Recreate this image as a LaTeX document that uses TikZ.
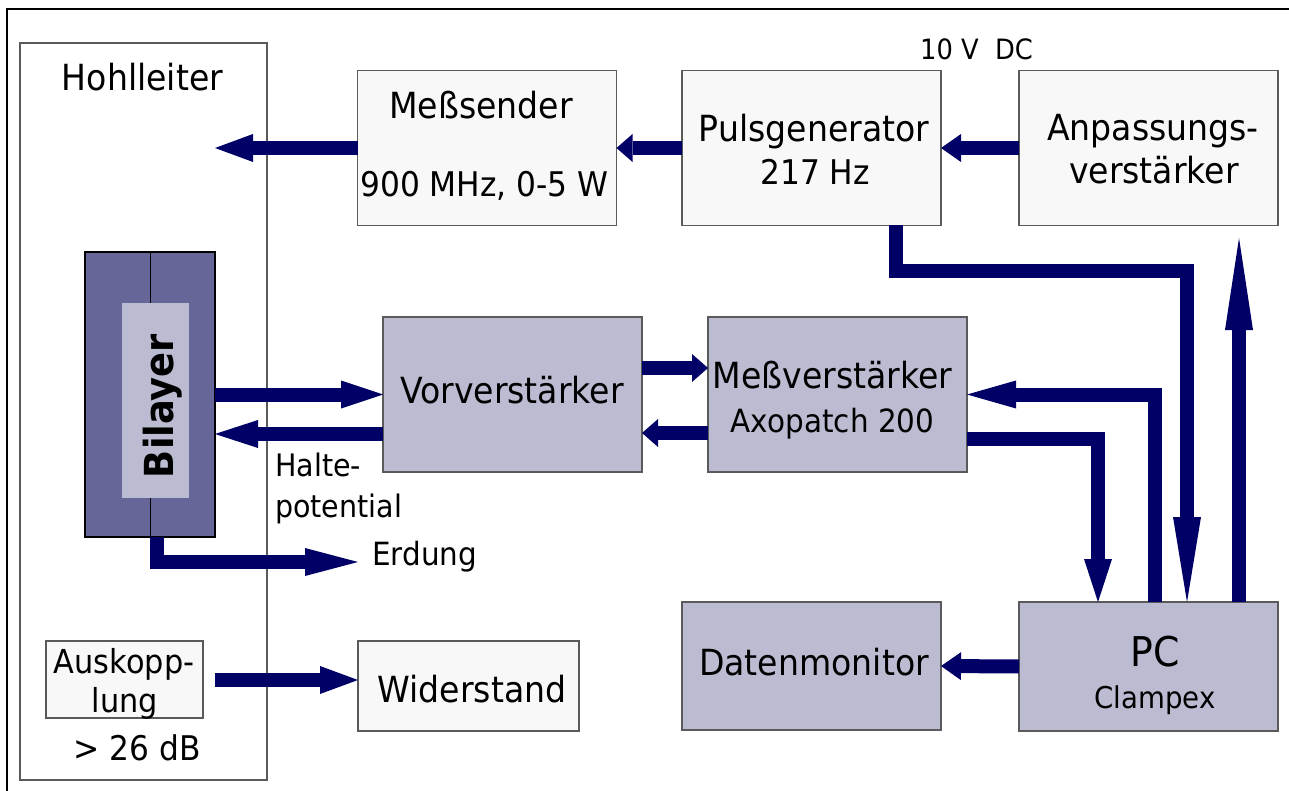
\documentclass[tikz,border=0pt]{standalone}
\usepackage{fontspec}
\setmainfont{DejaVu Sans}[FakeStretch=0.92]
\usetikzlibrary{arrows.meta,calc}
\definecolor{navy}{RGB}{0,0,102}
\definecolor{lightbox}{RGB}{248,248,248}
\definecolor{bluebox}{RGB}{187,187,210}
\definecolor{bilayerdark}{RGB}{102,102,153}
\definecolor{boxline}{RGB}{90,90,90}
\newcommand\fsz[1]{\fontsize{#1}{#1}\selectfont}
\begin{document}
\begin{tikzpicture}[x=1pt,y=-1pt,
  lbox/.style 2 args={draw=boxline,line width=1.2pt,fill=lightbox,minimum width=#1,minimum height=#2,inner sep=0pt,outer sep=0pt},
  bbox/.style 2 args={draw=boxline,line width=1.2pt,fill=bluebox,minimum width=#1,minimum height=#2,inner sep=0pt,outer sep=0pt},
  txt/.style={inner sep=0pt,anchor=base,font=\fsz{36}},
  arr/.style={draw=navy,line width=14pt,-{Triangle[length=#1,width=28pt,line width=0pt]}}
]
\useasboundingbox (0,0) rectangle (1289,791);
\fill[white] (0,0) rectangle (1289,791);
\draw[line width=2pt] (7,791) -- (7,9) -- (1289,9);

% Hohlleiter
\node[lbox={247pt}{737pt},fill=white] (hohl) at (143.5,411.5) {};
\node[txt] (hohltxt) at (142.5,91) {Hohlleiter};

% top row
\node[lbox={259pt}{155pt}] (mess) at (487,148) {};
\node[txt] (messa) at (481,119) {Meßsender};
\node[txt,font=\fsz{34}] (messb) at (484.5,197) {900 MHz, 0-5 W};
\node[lbox={259pt}{155pt}] (puls) at (811.5,148) {};
\node[txt] (pulsa) at (814,142) {Pulsgenerator};
\node[txt,font=\fsz{34}] (pulsb) at (815,185) {217 Hz};
\node[lbox={259pt}{155pt}] (anp) at (1148.5,148) {};
\node[txt] (anpa) at (1153,141) {Anpassungs-};
\node[txt] (anpb) at (1154,184) {verstärker};
\node[inner sep=0pt,anchor=base west,font=\fsz{28}] (dc) at (920,60) {10 V\ \ DC};

% Bilayer
\node[draw=black,line width=1.2pt,fill=bilayerdark,minimum width=130pt,minimum height=285pt,inner sep=0pt,outer sep=0pt] (bil) at (150,394.5) {};
\draw[line width=1pt] (bil.north) -- (bil.south);
\node[fill=bluebox,minimum width=67pt,minimum height=195pt,inner sep=0pt] (bilin) at (155.5,400.5) {};
\node[rotate=90,anchor=base,inner sep=0pt,font=\bfseries\fsz{40}] (biltxt) at (173,406) {Bilayer};

% middle row
\node[bbox={259pt}{155pt}] (vorv) at (512.5,394.5) {};
\node[txt] (vorvtxt) at (512,403) {Vorverstärker};
\node[bbox={259pt}{155pt}] (messv) at (837.5,394.5) {};
\node[txt] (messva) at (832.5,388) {Meßverstärker};
\node[txt,font=\fsz{32}] (messvb) at (832.5,432) {Axopatch 200};

% bottom row
\node[bbox={259pt}{128pt}] (daten) at (811.5,666) {};
\node[txt] (datentxt) at (814,675) {Datenmonitor};
\node[bbox={259pt}{129pt}] (pc) at (1148.5,666.5) {};
\node[txt,font=\fsz{41}] (pca) at (1155,666) {PC};
\node[txt,font=\fsz{30}] (pcb) at (1155,708) {Clampex};
\node[lbox={157pt}{77pt}] (ausk) at (124.5,679.5) {};
\node[txt,font=\fsz{33}] (auska) at (124,673) {Auskopp-};
\node[txt,font=\fsz{33}] (auskb) at (125,712) {lung};
\node[txt,font=\fsz{34}] (db) at (137,760) {> 26 dB};
\node[lbox={221pt}{90pt}] (wid) at (468.5,686) {};
\node[txt] (widtxt) at (472,702) {Widerstand};

% labels
\node[inner sep=0pt,anchor=base west,font=\fsz{31}] (halte) at (275,476) {Halte-};
\node[inner sep=0pt,anchor=base west,font=\fsz{31}] (pot) at (275,517) {potential};
\node[inner sep=0pt,anchor=base west,font=\fsz{32}] (erdtxt) at (372,565) {Erdung};

% connectors
\coordinate (hohlin) at (215,148);
\draw[arr=38pt] (mess.west) -- (hohlin);
\draw[arr=16pt] (puls.west) -- (mess.east);
\draw[arr=20pt] (anp.west) -- (puls.east);
\draw[arr=42pt] (bil.east) -- (vorv.west);
\draw[arr=43pt] ($(vorv.west)+(0,39.5)$) -- ($(bil.east)+(0,39.5)$);
\draw[arr=16pt] ($(vorv.east)+(0,-26.5)$) -- ($(messv.west)+(0,-26.5)$);
\draw[arr=16pt] ($(messv.west)+(0,38.5)$) -- ($(vorv.east)+(0,38.5)$);
\coordinate (erd) at (358,562);
\draw[arr=53pt] ($(bil.south)+(7,0)$) |- (erd);
\coordinate (auskout) at (215,680);
\draw[arr=38pt] (auskout) -- (wid.west |- auskout);
\draw[arr=85pt] ($(puls.south)+(84.5,0)$) -- ++(0,46) -| ($(pc.north)+(38.5,0)$);
\coordinate (anpin) at (1239,238);
\draw[arr=92pt] (pc.north -| anpin) -- (anpin);
\draw[arr=49pt] ($(pc.north)+(6.5,0)$) |- (messv.east);
\draw[arr=43pt] ($(messv.east)+(0,44.5)$) -| ($(pc.north)+(-50.5,0)$);
\draw[arr=20pt] (pc.west) -- (daten.east);
\end{tikzpicture}
\end{document}
